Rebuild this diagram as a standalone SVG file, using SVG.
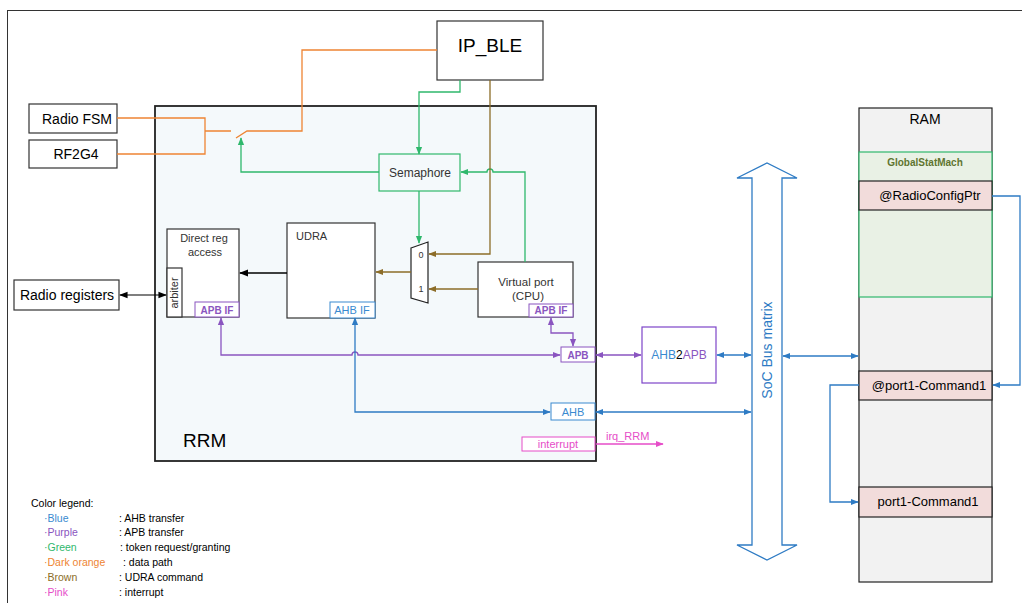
<svg xmlns="http://www.w3.org/2000/svg" width="1022" height="603" viewBox="0 0 1022 603">
<defs>
<style>
text{font-family:"Liberation Sans",Arial,sans-serif;}
.box{fill:#fff;stroke:#333;stroke-width:1.2}
.bl{stroke:#2e7bc4;fill:none;stroke-width:1.3}
.pu{stroke:#8a55c0;fill:none;stroke-width:1.3}
.gr{stroke:#2fb86c;fill:none;stroke-width:1.3}
.or{stroke:#ee8433;fill:none;stroke-width:1.3}
.br{stroke:#8c6d28;fill:none;stroke-width:1.3}
.pk{stroke:#e64dc8;fill:none;stroke-width:1.3}
</style>
<marker id="aB" viewBox="0 0 10 10" refX="9" refY="5" markerWidth="6" markerHeight="6" orient="auto-start-reverse"><path d="M0,1 L10,5 L0,9 z" fill="#2e7bc4"/></marker>
<marker id="aP" viewBox="0 0 10 10" refX="9" refY="5" markerWidth="6" markerHeight="6" orient="auto-start-reverse"><path d="M0,1 L10,5 L0,9 z" fill="#8a55c0"/></marker>
<marker id="aG" viewBox="0 0 10 10" refX="9" refY="5" markerWidth="6" markerHeight="6" orient="auto-start-reverse"><path d="M0,1 L10,5 L0,9 z" fill="#2fb86c"/></marker>
<marker id="aR" viewBox="0 0 10 10" refX="9" refY="5" markerWidth="6" markerHeight="6" orient="auto-start-reverse"><path d="M0,1 L10,5 L0,9 z" fill="#8c6d28"/></marker>
<marker id="aK" viewBox="0 0 10 10" refX="9" refY="5" markerWidth="6" markerHeight="6" orient="auto-start-reverse"><path d="M0,1 L10,5 L0,9 z" fill="#e64dc8"/></marker>
<marker id="aX" viewBox="0 0 10 10" refX="9" refY="5" markerWidth="7" markerHeight="7" orient="auto-start-reverse"><path d="M0,1 L10,5 L0,9 z" fill="#000"/></marker>
</defs>
<rect x="0" y="0" width="1022" height="603" fill="#fff"/>
<rect x="7.5" y="10.5" width="1020" height="600" fill="none" stroke="#333" stroke-width="1"/>

<g id="RRM"><rect x="155" y="106" width="441" height="355" fill="#f4f9fb" stroke="#222" stroke-width="1.8"/>
<text x="183" y="447" font-size="19">RRM</text></g>

<g id="IP_BLE"><rect class="box" x="437" y="21" width="106" height="59"/><text x="490" y="52" font-size="19" text-anchor="middle">IP_BLE</text></g>
<g id="RadioFSM"><rect class="box" x="29" y="104" width="88" height="29"/><text x="77" y="124" font-size="14" text-anchor="middle">Radio FSM</text></g>
<g id="RF2G4"><rect class="box" x="29" y="140" width="88" height="28"/><text x="76" y="159" font-size="14" text-anchor="middle">RF2G4</text></g>
<g id="RadioRegisters"><rect class="box" x="14" y="280" width="105" height="30"/><text x="67" y="300" font-size="14" text-anchor="middle">Radio registers</text></g>

<g id="Semaphore"><rect x="379" y="154" width="81" height="37" fill="#f4f9fb" stroke="#2fb86c" stroke-width="1.2"/><text x="420" y="177" font-size="12" text-anchor="middle" fill="#333">Semaphore</text></g>

<g id="DirectReg"><rect class="box" x="167" y="229" width="72" height="88"/>
<text x="204" y="242" font-size="11" text-anchor="middle" fill="#333">Direct reg</text>
<text x="205" y="256" font-size="11" text-anchor="middle" fill="#333">access</text>
<rect class="box" x="167" y="268" width="15" height="49"/>
<text transform="translate(178,293) rotate(-90)" font-size="11" text-anchor="middle" fill="#333">arbiter</text>
<rect x="195" y="302" width="44" height="15" fill="#fff" stroke="#8a55c0"/>
<text x="217" y="314" font-size="10" font-weight="bold" text-anchor="middle" fill="#8a55c0">APB IF</text></g>

<g id="UDRA"><rect class="box" x="287" y="223" width="88" height="95"/>
<text x="296" y="240" font-size="11" fill="#333">UDRA</text>
<rect x="330" y="302" width="45" height="16" fill="#fff" stroke="#3a8ad0"/>
<text x="352" y="314" font-size="11" text-anchor="middle" fill="#3a8ad0">AHB IF</text></g>

<g id="Mux"><path d="M411,248 L428,242 L428,303 L411,298 Z" fill="#fff" stroke="#222" stroke-width="1.2"/>
<text x="421" y="258" font-size="9" text-anchor="middle" fill="#333">0</text>
<text x="421" y="292" font-size="9" text-anchor="middle" fill="#333">1</text></g>

<g id="VirtualPort"><rect class="box" x="478" y="262" width="95" height="55"/>
<text x="526" y="286" font-size="11.5" text-anchor="middle" fill="#333">Virtual port</text>
<text x="528" y="300" font-size="11.5" text-anchor="middle" fill="#333">(CPU)</text>
<rect x="529" y="304" width="44" height="13" fill="#fff" stroke="#8a55c0"/>
<text x="551" y="314" font-size="10" font-weight="bold" text-anchor="middle" fill="#8a55c0">APB IF</text></g>

<g id="APB"><rect x="561" y="347" width="34" height="15" fill="#fff" stroke="#8a55c0"/><text x="578" y="359" font-size="10" font-weight="bold" text-anchor="middle" fill="#8a55c0">APB</text></g>
<g id="AHB"><rect x="551" y="403" width="44" height="17" fill="#fff" stroke="#3a8ad0"/><text x="573" y="416" font-size="11" text-anchor="middle" fill="#3a8ad0">AHB</text></g>
<g id="interrupt"><rect x="522" y="437" width="73" height="14" fill="#fff" stroke="#e64dc8"/><text x="558" y="448" font-size="11" text-anchor="middle" fill="#e64dc8">interrupt</text></g>

<g id="AHB2APB"><rect x="642" y="327" width="74" height="56" fill="#fff" stroke="#7d45c8" stroke-width="1.2"/>
<text x="679" y="359" font-size="12" text-anchor="middle"><tspan fill="#3a8ad0">AHB</tspan><tspan fill="#000">2</tspan><tspan fill="#8a55c0">APB</tspan></text></g>

<g id="SoCBus"><path d="M752,545 L752,178 L737,178 L767,163 L797,178 L782,178 L782,545 L797,545 L767,560 L737,545 Z" fill="#fff" stroke="#2e7bc4" stroke-width="1.3"/>
<text transform="translate(772,350) rotate(-90)" font-size="14" text-anchor="middle" fill="#2e7bc4">SoC Bus matrix</text></g>

<g id="RAM"><rect x="859" y="108" width="133" height="474" fill="#f2f2f2" stroke="#222" stroke-width="1.2"/>
<text x="925" y="124" font-size="14" text-anchor="middle">RAM</text>
<rect x="859" y="152" width="133" height="145" fill="#e9f1e5" stroke="#2fb86c" stroke-width="1.2"/>
<text x="925" y="166" font-size="10" font-weight="bold" text-anchor="middle" fill="#5f7530">GlobalStatMach</text>
<rect x="859" y="181" width="133" height="29" fill="#f2dcdb" stroke="#222" stroke-width="1.2"/>
<text x="930" y="200" font-size="13" text-anchor="middle">@RadioConfigPtr</text>
<rect x="859" y="371" width="133" height="29" fill="#f2dcdb" stroke="#222" stroke-width="1.2"/>
<text x="929" y="390" font-size="13" text-anchor="middle">@port1-Command1</text>
<rect x="859" y="487" width="133" height="30" fill="#f2dcdb" stroke="#222" stroke-width="1.2"/>
<text x="928" y="506" font-size="13" text-anchor="middle">port1-Command1</text></g>

<g id="connectors">
<path class="or" d="M437,50 H302 V131 H247 L236,138"/>
<path class="or" d="M117,118 H205 V154 H117 M205,131 H231"/>
<path class="gr" d="M379,172 H241 V138" marker-end="url(#aG)"/>
<path class="gr" d="M460,80 V92 H419 V154" marker-end="url(#aG)"/>
<path class="gr" d="M419,191 V243" marker-end="url(#aG)"/>
<path class="gr" d="M525,262 V172 H493 A3,3 0 0 0 487,172 H461" marker-end="url(#aG)"/>
<path class="br" d="M490,80 V254 H429" marker-end="url(#aR)"/>
<path class="br" d="M478,289 H429" marker-end="url(#aR)"/>
<path class="br" d="M411,272 H376" marker-end="url(#aR)"/>
<path d="M287,273 H240" stroke="#000" stroke-width="1.3" fill="none" marker-end="url(#aX)"/>
<path d="M120,295 H166" stroke="#000" stroke-width="1.2" fill="none" marker-start="url(#aX)" marker-end="url(#aX)"/>
<path class="pu" d="M221,318 V355 H352 A3,3 0 0 1 358,355 H560" marker-start="url(#aP)" marker-end="url(#aP)"/>
<path class="pu" d="M551,318 V333 H573 V346" marker-start="url(#aP)" marker-end="url(#aP)"/>
<path class="pu" d="M596,355 H641" marker-start="url(#aP)" marker-end="url(#aP)"/>
<path class="bl" d="M355,318 V412 H550" marker-start="url(#aB)" marker-end="url(#aB)"/>
<path class="bl" d="M596,412 H751" marker-start="url(#aB)" marker-end="url(#aB)"/>
<path class="bl" d="M717,355 H751" marker-start="url(#aB)" marker-end="url(#aB)"/>
<path class="bl" d="M783,356 H858" marker-start="url(#aB)" marker-end="url(#aB)"/>
<path class="bl" d="M992,196 H1020 V385 H993" marker-end="url(#aB)"/>
<path class="bl" d="M859,385 H830 V502 H858" marker-end="url(#aB)"/>
<path class="pk" d="M596,444 H663" marker-end="url(#aK)"/>
<text x="606" y="440" font-size="11" fill="#e64dc8">irq_RRM</text>
</g>

<g id="legend" font-size="10.5">
<text x="31" y="507">Color legend:</text>
<text x="44" y="522" fill="#3a8ad0">·Blue</text><text x="119" y="522">: AHB transfer</text>
<text x="44" y="536" fill="#8a55c0">·Purple</text><text x="119" y="536">: APB transfer</text>
<text x="44" y="551" fill="#2fb86c">·Green</text><text x="120" y="551">: token request/granting</text>
<text x="44" y="566" fill="#ee8433">·Dark orange</text><text x="123" y="566">: data path</text>
<text x="44" y="581" fill="#8c6d28">·Brown</text><text x="119" y="581">: UDRA command</text>
<text x="44" y="596" fill="#e64dc8">·Pink</text><text x="119" y="596">: interrupt</text>
</g>
</svg>
